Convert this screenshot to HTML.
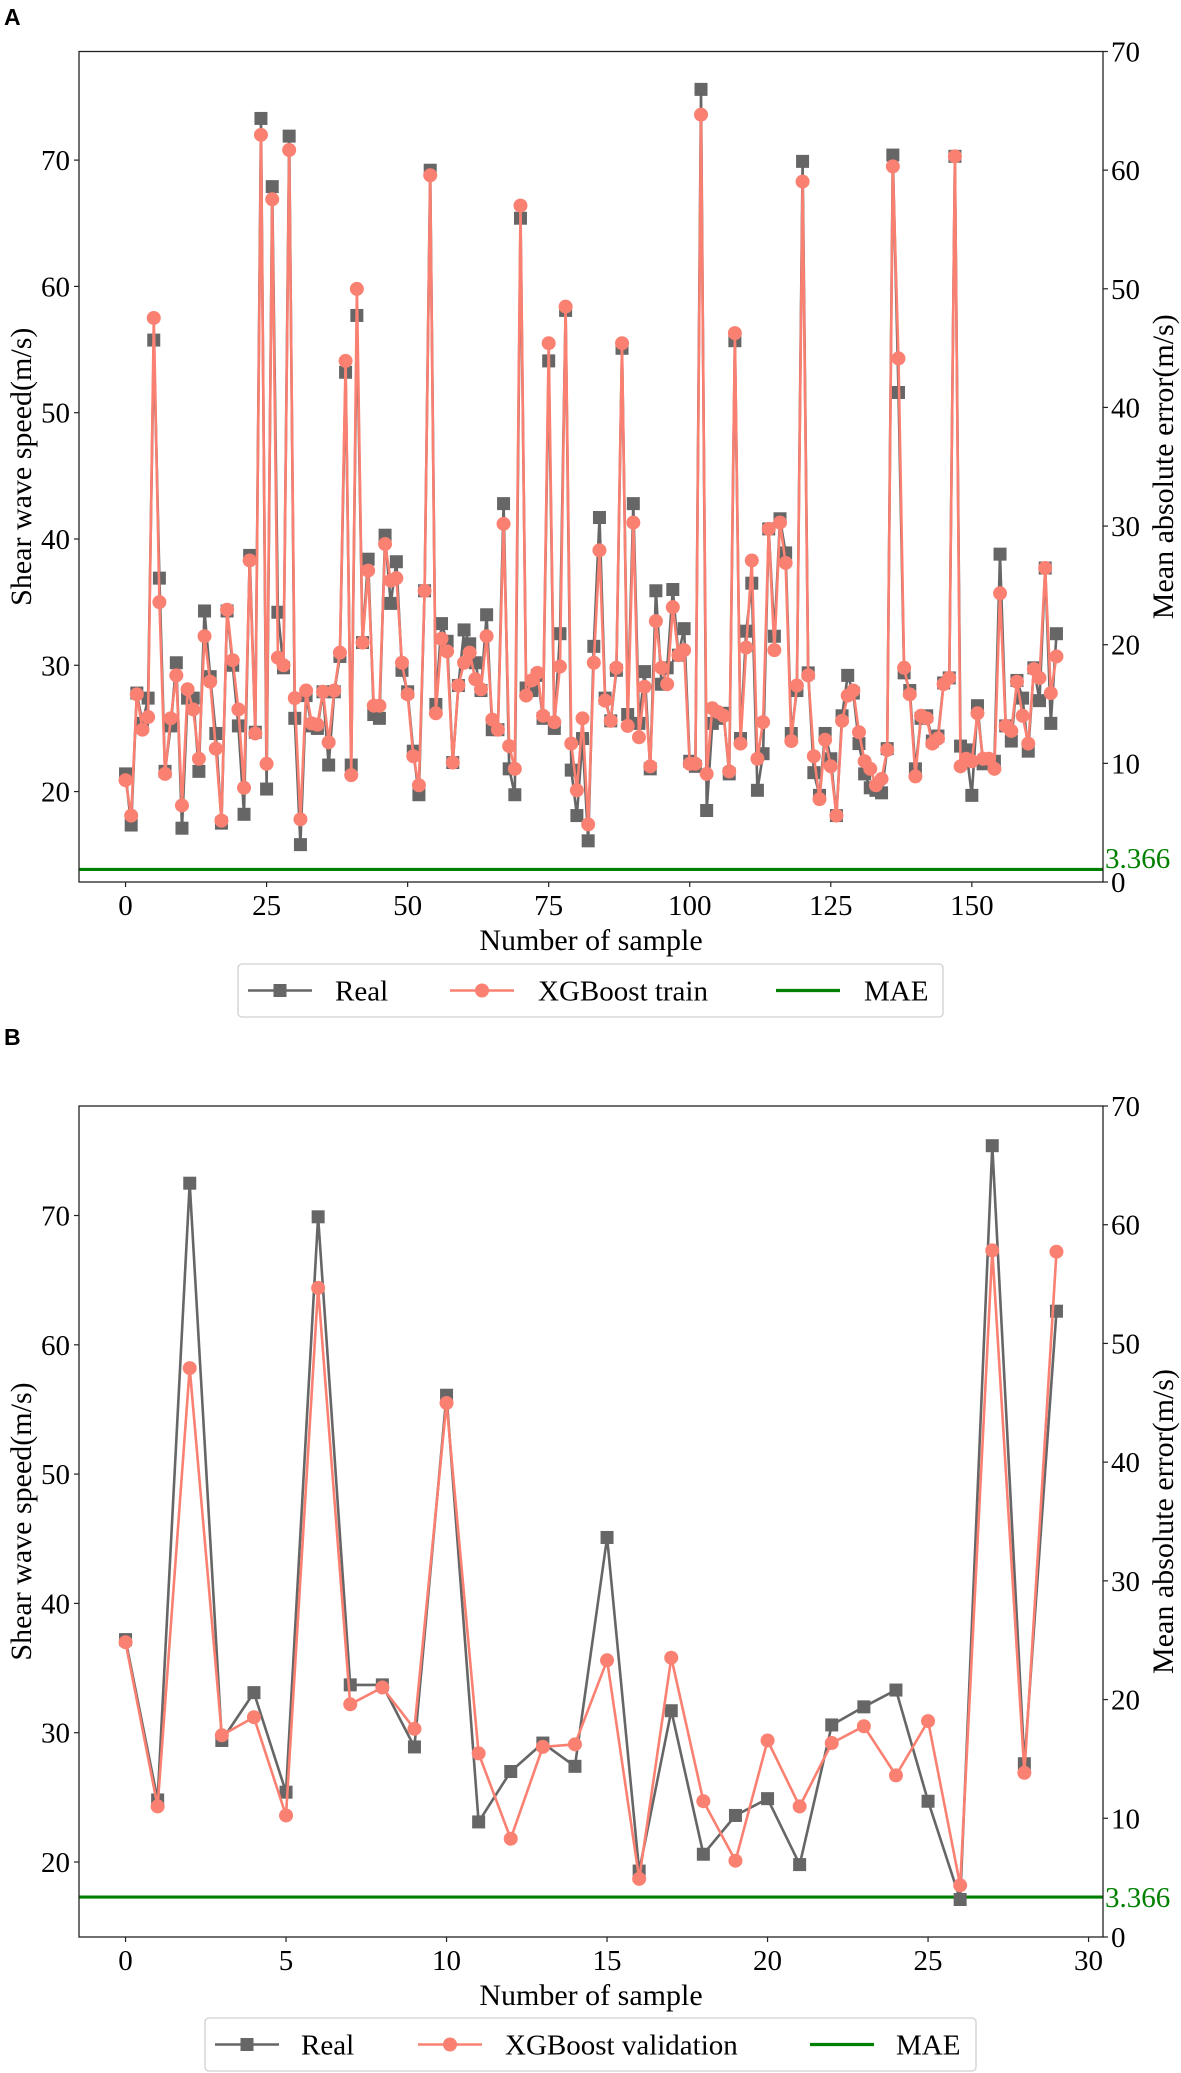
<!DOCTYPE html>
<html><head><meta charset="utf-8"><style>
body{margin:0;background:#fff}
svg{display:block}
text{font-family:"Liberation Serif",serif}
</style></head><body>
<svg id="fig" width="1181" height="2073" viewBox="0 0 1181 2073" xmlns="http://www.w3.org/2000/svg">
<rect width="1181" height="2073" fill="#fff"/>
<text x="4" y="25" style="font-family:'Liberation Sans',sans-serif;font-weight:bold;font-size:23px">A</text>
<text x="4" y="1045" style="font-family:'Liberation Sans',sans-serif;font-weight:bold;font-size:23px">B</text>
<g id="chartA"></g>
<g id="chartB"></g>
</svg>
<script>
const realA = [21.4,17.35,27.8,25.4,27.4,55.75,36.9,21.6,25.2,30.2,
17.1,27.4,27.4,21.6,34.3,29.1,24.6,17.5,34.3,30.0,
25.2,18.2,38.7,24.7,73.3,20.2,67.9,34.2,29.8,71.9,
25.8,15.8,27.6,25.2,25.0,27.9,22.1,27.9,30.7,53.2,
22.1,57.7,31.8,38.4,26.1,25.8,40.3,34.9,38.2,29.6,
27.9,23.2,19.75,35.9,69.2,26.9,33.3,31.9,22.3,28.4,
32.8,31.7,30.2,28.0,34.0,24.9,24.9,42.8,21.8,19.75,
65.4,28.2,28.0,29.2,25.8,54.1,25.0,32.5,58.1,21.7,
18.1,24.2,16.1,31.5,41.7,27.4,25.6,29.6,55.1,26.1,
42.8,25.4,29.5,21.8,35.9,28.5,29.8,36.0,30.8,32.9,
22.4,22.0,75.6,18.5,25.4,25.8,26.2,21.4,55.7,24.2,
32.7,36.5,20.1,23.0,40.8,32.3,41.6,38.9,24.6,28.0,
69.9,29.4,21.5,19.7,24.6,22.6,18.1,26.0,29.2,27.8,
23.8,21.4,20.3,20.1,19.9,23.4,70.4,51.6,29.4,28.0,
21.8,25.8,26.0,24.0,24.4,28.6,29.0,70.3,23.6,23.3,
19.7,26.8,22.2,22.4,22.4,38.8,25.2,24.0,28.8,27.4,
23.2,29.8,27.2,37.7,25.4,32.5];
const predA = [20.9,18.1,27.7,24.9,25.9,57.5,35.0,21.4,25.8,29.2,
18.9,28.1,26.5,22.6,32.3,28.7,23.4,17.7,34.4,30.4,
26.5,20.3,38.3,24.6,72.0,22.2,66.9,30.6,30.0,70.8,
27.4,17.8,28.0,25.4,25.3,27.9,23.9,28.0,31.0,54.1,
21.3,59.8,31.8,37.5,26.8,26.8,39.6,36.7,36.9,30.2,
27.7,22.8,20.5,35.9,68.8,26.2,32.1,31.1,22.3,28.4,
30.2,31.0,28.9,28.1,32.3,25.7,24.9,41.2,23.6,21.8,
66.4,27.6,28.8,29.4,26.0,55.5,25.5,29.9,58.4,23.8,
20.1,25.8,17.4,30.2,39.1,27.2,25.6,29.8,55.5,25.2,
41.3,24.3,28.3,22.0,33.5,29.8,28.5,34.6,30.8,31.2,
22.2,22.2,73.6,21.4,26.6,26.3,26.0,21.6,56.3,23.8,
31.4,38.3,22.6,25.5,40.8,31.2,41.3,38.1,24.0,28.4,
68.3,29.2,22.8,19.4,24.1,22.0,18.1,25.6,27.6,28.0,
24.7,22.4,21.8,20.5,21.0,23.3,69.5,54.3,29.8,27.7,
21.2,26.0,25.8,23.8,24.2,28.5,29.0,70.3,22.0,22.6,
22.4,26.2,22.6,22.6,21.8,35.7,25.2,24.8,28.7,26.0,
23.8,29.7,29.0,37.7,27.8,30.7];
const realB = [37.2,24.8,72.5,29.4,33.1,25.4,69.9,33.7,33.7,28.9,56.1,23.1,27.0,29.2,27.4,45.1,19.3,31.7,20.6,23.6,24.9,19.8,30.6,32.0,33.3,24.7,17.1,75.4,27.6,62.6];
const predB = [37.0,24.3,58.2,29.8,31.2,23.6,64.4,32.2,33.5,30.3,55.5,28.4,21.8,28.9,29.1,35.6,18.7,35.8,24.7,20.1,29.4,24.3,29.2,30.5,26.7,30.9,18.2,67.3,26.9,67.2];
const xTicksA = [0,25,50,75,100,125,150];
const xTicksB = [0,5,10,15,20,25,30];
const yTicksLeft = [20,30,40,50,60,70];
const yTicksRight = [0,10,20,30,40,50,60,70];
const maeLabel = "3.366";
const maeLineA = 1.06;
const maeLineB = 3.366;

const NS = "http://www.w3.org/2000/svg";
function mk(parent, tag, attrs, txt){
  const e = document.createElementNS(NS, tag);
  for (const k in attrs) e.setAttribute(k, attrs[k]);
  if (txt !== undefined) e.textContent = txt;
  parent.appendChild(e);
  return e;
}
const L = 79, R = 1103;
const GRAY = "#666666", SAL = "#fa8072", GRN = "#008000";

function drawChart(g, cfg){
  const {top, bot, xmin, xmax, ymin, ymax, real, pred, xticks, mae, predLabel, legend} = cfg;
  const sx = v => L + (v - xmin) / (xmax - xmin) * (R - L);
  const sy = v => bot - (v - ymin) / (ymax - ymin) * (bot - top);
  const sr = v => bot - v / 70 * (bot - top);

  // MAE line
  const ml = mk(g, "line", {x1:L, x2:R, y1:sr(mae), y2:sr(mae), stroke:GRN, "stroke-width":3.2});
  
  

  // real line
  const ptsR = real.map((v,i)=>sx(i).toFixed(1)+","+sy(v).toFixed(1)).join(" ");
  const pr = mk(g, "polyline", {points:ptsR, fill:"none", stroke:GRAY, "stroke-width":2.6, "stroke-linejoin":"round"});
  
  
  real.forEach((v,i)=>{
    const r = mk(g, "rect", {x:sx(i)-6.5, y:sy(v)-6.5, width:13, height:13, fill:GRAY});
    
    
  });
  const ptsP = pred.map((v,i)=>sx(i).toFixed(1)+","+sy(v).toFixed(1)).join(" ");
  const pp = mk(g, "polyline", {points:ptsP, fill:"none", stroke:SAL, "stroke-width":2.6, "stroke-linejoin":"round"});
  
  
  pred.forEach((v,i)=>{
    const c = mk(g, "circle", {cx:sx(i), cy:sy(v), r:7, fill:SAL});
    
    
  });

  // frame
  const fr = mk(g, "rect", {x:L, y:top, width:R-L, height:bot-top, fill:"none", stroke:"#222", "stroke-width":1.3});
  
  

  // x ticks
  xticks.forEach(t=>{
    mk(g, "line", {x1:sx(t), x2:sx(t), y1:bot, y2:bot+5, stroke:"#222", "stroke-width":1.2});
    const tx = mk(g, "text", {x:sx(t), y:bot+33, "font-size":29, "text-anchor":"middle"}, String(t));
    
    
  });
  yTicksLeft.forEach(t=>{
    mk(g, "line", {x1:L-5, x2:L, y1:sy(t), y2:sy(t), stroke:"#222", "stroke-width":1.2});
    const tx = mk(g, "text", {x:L-9, y:sy(t)+10, "font-size":29, "text-anchor":"end"}, String(t));
    
    
  });
  yTicksRight.forEach(t=>{
    mk(g, "line", {x1:R, x2:R+5, y1:sr(t), y2:sr(t), stroke:"#222", "stroke-width":1.2});
    const tx = mk(g, "text", {x:R+8, y:sr(t)+10, "font-size":29}, String(t));
    
    
  });
  const mt = mk(g, "text", {x:R+2, y:cfg.maeLabelY+10, "font-size":29, fill:GRN}, maeLabel);
  
  

  const cy = (top+bot)/2;
  const yl = mk(g, "text", {x:0, y:0, "font-size":30, "text-anchor":"middle", transform:`translate(31,${cy}) rotate(-90)`}, "Shear wave speed(m/s)");
  
  
  const yr = mk(g, "text", {x:0, y:0, "font-size":30, "text-anchor":"middle", transform:`translate(1173,${cy}) rotate(-90)`}, "Mean absolute error(m/s)");
  
  
  const xl = mk(g, "text", {x:(L+R)/2, y:bot+68, "font-size":30, "text-anchor":"middle"}, "Number of sample");
  
  

  // legend
  const lg = mk(g, "g", {});
  
  
  mk(lg, "rect", {x:legend.x0, y:legend.y0, width:legend.x1-legend.x0, height:legend.y1-legend.y0, rx:4, fill:"#fff", stroke:"#d0d0d0", "stroke-width":1.3});
  const ly = (legend.y0+legend.y1)/2;
  const e1 = mk(lg, "g", {});
  
  
  mk(e1, "line", {x1:legend.h[0], x2:legend.h[0]+64, y1:ly, y2:ly, stroke:GRAY, "stroke-width":2.6});
  mk(e1, "rect", {x:legend.h[0]+32-6.5, y:ly-6.5, width:13, height:13, fill:GRAY});
  mk(e1, "text", {x:legend.t[0], y:ly+10, "font-size":29}, "Real");
  const e2 = mk(lg, "g", {});
  
  
  mk(e2, "line", {x1:legend.h[1], x2:legend.h[1]+64, y1:ly, y2:ly, stroke:SAL, "stroke-width":2.6});
  mk(e2, "circle", {cx:legend.h[1]+32, cy:ly, r:7, fill:SAL});
  mk(e2, "text", {x:legend.t[1], y:ly+10, "font-size":29}, predLabel);
  const e3 = mk(lg, "g", {});
  
  
  mk(e3, "line", {x1:legend.h[2], x2:legend.h[2]+64, y1:ly, y2:ly, stroke:GRN, "stroke-width":3.2});
  mk(e3, "text", {x:legend.t[2], y:ly+10, "font-size":29}, "MAE");
}

drawChart(document.getElementById("chartA"), {
  top:51.5, bot:882, xmin:-8.25, xmax:173.25, ymin:12.84, ymax:78.6,
  real:realA, pred:predA, xticks:xTicksA, mae:maeLineA, maeLabelY:858,
  predLabel:"XGBoost train",
  legend:{x0:238, x1:943, y0:964, y1:1017, h:[248,450,776], t:[335,538,864]}
});
drawChart(document.getElementById("chartB"), {
  top:1106, bot:1937, xmin:-1.45, xmax:30.45, ymin:14.2, ymax:78.47,
  real:realB, pred:predB, xticks:xTicksB, mae:maeLineB, maeLabelY:1897,
  predLabel:"XGBoost validation",
  legend:{x0:205, x1:976, y0:2018, y1:2071, h:[215,418,810], t:[301,505,896]}
});
</script>
</body></html>
